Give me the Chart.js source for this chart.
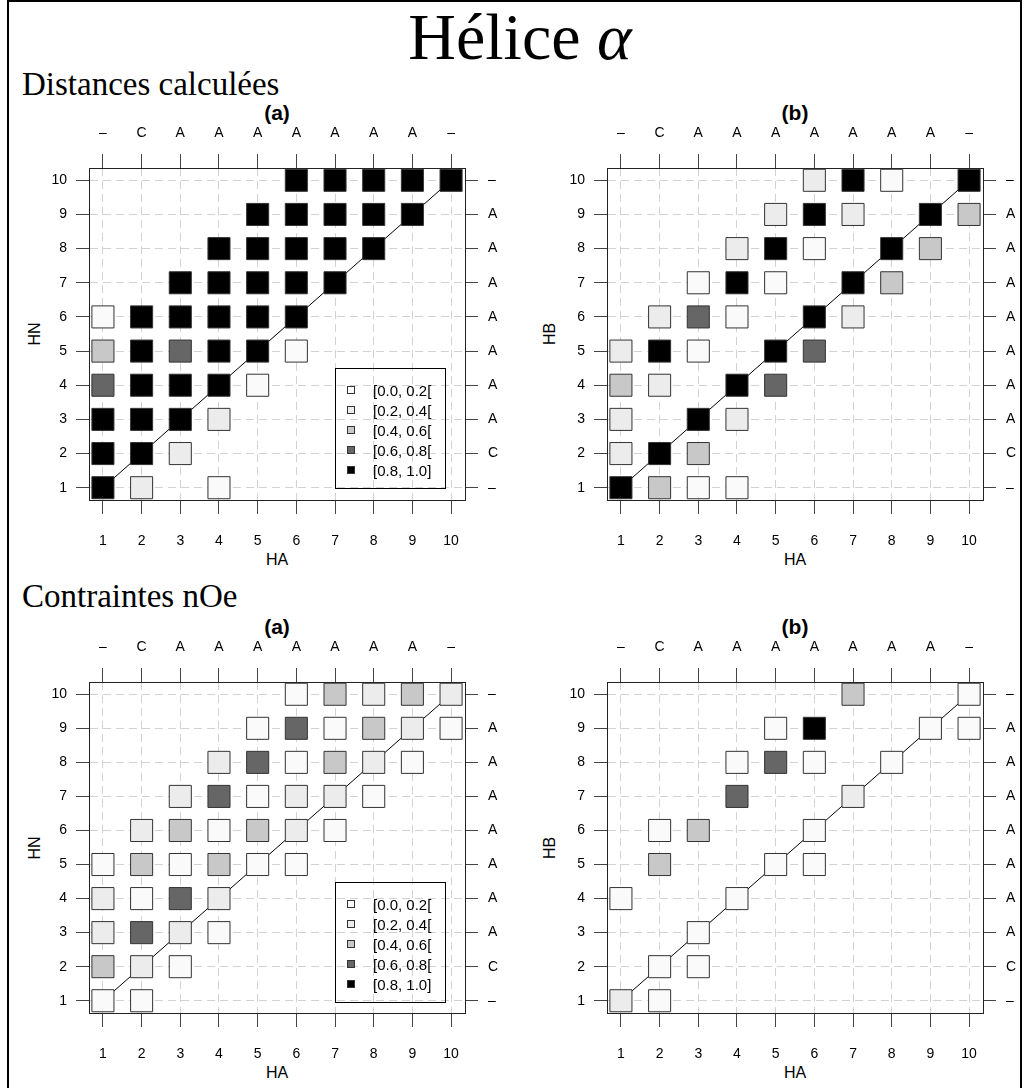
<!DOCTYPE html>
<html>
<head>
<meta charset="utf-8">
<script src="https://cdn.jsdelivr.net/npm/chart.js@4.4.0/dist/chart.umd.min.js"></script>
<style>
  body { margin: 0; background: #fff; }
  #page { position: relative; width: 1026px; height: 1088px; overflow: hidden; background: #fff; }
  #frame { position: absolute; left: 7px; top: 0; width: 1015px; height: 1100px; border: 2px solid #000; box-sizing: border-box; }
  canvas { position: absolute; }
  .txt { position: absolute; white-space: nowrap; color: #000; line-height: 1; transform: translate(-50%, -50%); }
  .left { transform: translate(0, -50%); }
  .serif { font-family: "Liberation Serif", "DejaVu Serif", serif; }
  .sans { font-family: "Liberation Sans", Arial, sans-serif; }
  .ptitle { font-weight: bold; font-size: 21px; }
  .axt { font-size: 16px; }
  .rot { transform: translate(-50%, -50%) rotate(-90deg); }
  .legend { position: absolute; width: 111px; height: 121px; border: 1px solid #000; box-sizing: border-box; }
  .legend .sw { position: absolute; left: 11px; width: 8px; height: 8px; border: 1px solid #333; box-sizing: border-box; transform: translateY(-50%); }
  .legend .lt { position: absolute; left: 37px; font-family: "Liberation Sans", Arial, sans-serif; font-size: 15px; line-height: 1; transform: translateY(-50%); }
</style>
</head>
<body>
<div id="page">
  <div id="frame"></div>

  <div class="txt serif" style="left:520px; top:37px; font-size:66px;">Hélice <i>α</i></div>
  <div class="txt serif left" style="left:22px; top:84px; font-size:33px;">Distances calculées</div>
  <div class="txt serif left" style="left:22px; top:596px; font-size:33px;">Contraintes nOe</div>

  <div class="txt sans ptitle" style="left:277px; top:112px;">(a)</div>
  <div class="txt sans ptitle" style="left:795px; top:112px;">(b)</div>
  <div class="txt sans ptitle" style="left:277px; top:626px;">(a)</div>
  <div class="txt sans ptitle" style="left:795px; top:626px;">(b)</div>

  <div class="txt sans axt" style="left:277px; top:560px;">HA</div>
  <div class="txt sans axt" style="left:795px; top:560px;">HA</div>
  <div class="txt sans axt" style="left:277px; top:1073px;">HA</div>
  <div class="txt sans axt" style="left:795px; top:1073px;">HA</div>

  <div class="txt sans axt rot" style="left:35px; top:334px;">HN</div>
  <div class="txt sans axt rot" style="left:550px; top:334px;">HB</div>
  <div class="txt sans axt rot" style="left:35px; top:848px;">HN</div>
  <div class="txt sans axt rot" style="left:550px; top:848px;">HB</div>

  <canvas id="distA" width="505" height="470" style="left:8px; top:100px;"></canvas>
  <canvas id="distB" width="500" height="470" style="left:520px; top:100px;"></canvas>
  <canvas id="noeA" width="505" height="470" style="left:8px; top:612px;"></canvas>
  <canvas id="noeB" width="500" height="470" style="left:520px; top:612px;"></canvas>

  <div class="legend" id="legA" style="left:335px; top:368px;"></div>
  <div class="legend" id="legB" style="left:335px; top:882px;"></div>
</div>

<script>
// residue positions and their secondary-structure letters
const positions = [1, 2, 3, 4, 5, 6, 7, 8, 9, 10];
const residues = ['–', 'C', 'A', 'A', 'A', 'A', 'A', 'A', 'A', '–'];

// class intervals and grey shades
const classLabels = ['[0.0, 0.2[', '[0.2, 0.4[', '[0.4, 0.6[', '[0.6, 0.8[', '[0.8, 1.0]'];
const shades = ['#fafafa', '#ececec', '#c8c8c8', '#666666', '#000000'];

const _ = null;
// rows go from y = 1 (bottom) to y = 10 (top), columns x = 1..10; value = class index
const distA = [
  [4, 1, _, 0, _, _, _, _, _, _],
  [4, 4, 1, _, _, _, _, _, _, _],
  [4, 4, 4, 1, _, _, _, _, _, _],
  [3, 4, 4, 4, 0, _, _, _, _, _],
  [2, 4, 3, 4, 4, 0, _, _, _, _],
  [0, 4, 4, 4, 4, 4, _, _, _, _],
  [_, _, 4, 4, 4, 4, 4, _, _, _],
  [_, _, _, 4, 4, 4, 4, 4, _, _],
  [_, _, _, _, 4, 4, 4, 4, 4, _],
  [_, _, _, _, _, 4, 4, 4, 4, 4]
];
const distB = [
  [4, 2, 0, 0, _, _, _, _, _, _],
  [1, 4, 2, _, _, _, _, _, _, _],
  [1, _, 4, 1, _, _, _, _, _, _],
  [2, 1, _, 4, 3, _, _, _, _, _],
  [1, 4, 0, _, 4, 3, _, _, _, _],
  [_, 1, 3, 0, _, 4, 1, _, _, _],
  [_, _, 0, 4, 0, _, 4, 2, _, _],
  [_, _, _, 1, 4, 0, _, 4, 2, _],
  [_, _, _, _, 1, 4, 1, _, 4, 2],
  [_, _, _, _, _, 1, 4, 0, _, 4]
];
const noeA = [
  [0, 0, _, _, _, _, _, _, _, _],
  [2, 1, 0, _, _, _, _, _, _, _],
  [1, 3, 1, 0, _, _, _, _, _, _],
  [1, 0, 3, 1, _, _, _, _, _, _],
  [0, 2, 0, 2, 0, 0, _, _, _, _],
  [_, 1, 2, 0, 2, 1, 0, _, _, _],
  [_, _, 1, 3, 0, 1, 1, 0, _, _],
  [_, _, _, 1, 3, 0, 2, 1, 0, _],
  [_, _, _, _, 0, 3, 0, 2, 1, 0],
  [_, _, _, _, _, 0, 2, 1, 2, 1]
];
const noeB = [
  [1, 0, _, _, _, _, _, _, _, _],
  [_, 0, 0, _, _, _, _, _, _, _],
  [_, _, 0, _, _, _, _, _, _, _],
  [0, _, _, 0, _, _, _, _, _, _],
  [_, 2, _, _, 0, 0, _, _, _, _],
  [_, 0, 2, _, _, 0, _, _, _, _],
  [_, _, _, 3, _, _, 1, _, _, _],
  [_, _, _, 0, 3, 0, _, 0, _, _],
  [_, _, _, _, 0, 4, _, _, 0, 0],
  [_, _, _, _, _, _, 2, _, _, 0]
];

const LO = 0.64, HI = 10.36;

function axis(pos, size, tickLen, pad, labelFn, onArea) {
  const horiz = pos === 'top' || pos === 'bottom';
  return {
    type: 'linear',
    position: pos,
    min: LO,
    max: HI,
    afterBuildTicks: s => { s.ticks = positions.map(v => ({ value: v })); },
    afterFit: s => { if (horiz) s.height = size; else s.width = size; },
    grid: {
      drawOnChartArea: onArea,
      color: '#d2d2d2',
      lineWidth: 1,
      tickLength: tickLen,
      tickColor: '#444',
      tickWidth: 1,
      tickBorderDash: []
    },
    border: { display: true, color: '#222', width: 1, dash: [8, 5] },
    ticks: {
      autoSkip: false,
      maxRotation: 0,
      padding: pad,
      color: '#000',
      font: { family: 'Liberation Sans', size: 14 },
      callback: labelFn
    }
  };
}

// sizes: [left, right, top, bottom] axis thickness
function makePanel(id, rows, sizes) {
  const pts = [];
  rows.forEach((row, yi) => row.forEach((lvl, xi) => {
    if (lvl !== null) pts.push({ x: positions[xi], y: positions[yi], lvl: lvl });
  }));

  new Chart(document.getElementById(id), {
    data: {
      datasets: [{
        type: 'scatter',
        data: pts,
        pointStyle: 'rect',
        pointRadius: 15.6,
        pointHoverRadius: 15.6,
        backgroundColor: c => shades[c.raw ? c.raw.lvl : 0],
        borderColor: '#333',
        borderWidth: 1,
        clip: false,
        order: 0
      }, {
        type: 'line',
        data: [{ x: 1, y: 1 }, { x: 10, y: 10 }],
        borderColor: '#000',
        borderWidth: 1,
        pointRadius: 0,
        order: 1
      }]
    },
    options: {
      responsive: false,
      animation: false,
      devicePixelRatio: 1,
      layout: { padding: 0, autoPadding: false },
      plugins: { legend: { display: false }, tooltip: { enabled: false } },
      scales: {
        x: axis('bottom', sizes[3], 14, 19, v => String(v), true),
        x2: axis('top', sizes[2], 14, 12, v => residues[v - 1], false),
        y: axis('left', sizes[0], 13, 9, v => String(v), true),
        y2: axis('right', sizes[1], 13, 10, v => residues[v - 1], false)
      }
    }
  });
}

function makeLegend(id) {
  const box = document.getElementById(id);
  classLabels.forEach((lab, i) => {
    const cy = 21 + i * 20;
    box.innerHTML += `<div class="sw" style="top:${cy}px; background:${shades[i]}"></div>` +
                     `<div class="lt" style="top:${cy}px">${lab}</div>`;
  });
}

makePanel('distA', distA, [81, 48, 68, 70]);
makePanel('distB', distB, [87, 37, 68, 70]);
makePanel('noeA', noeA, [81, 48, 70, 69]);
makePanel('noeB', noeB, [87, 37, 70, 69]);
makeLegend('legA');
makeLegend('legB');
</script>
</body>
</html>
